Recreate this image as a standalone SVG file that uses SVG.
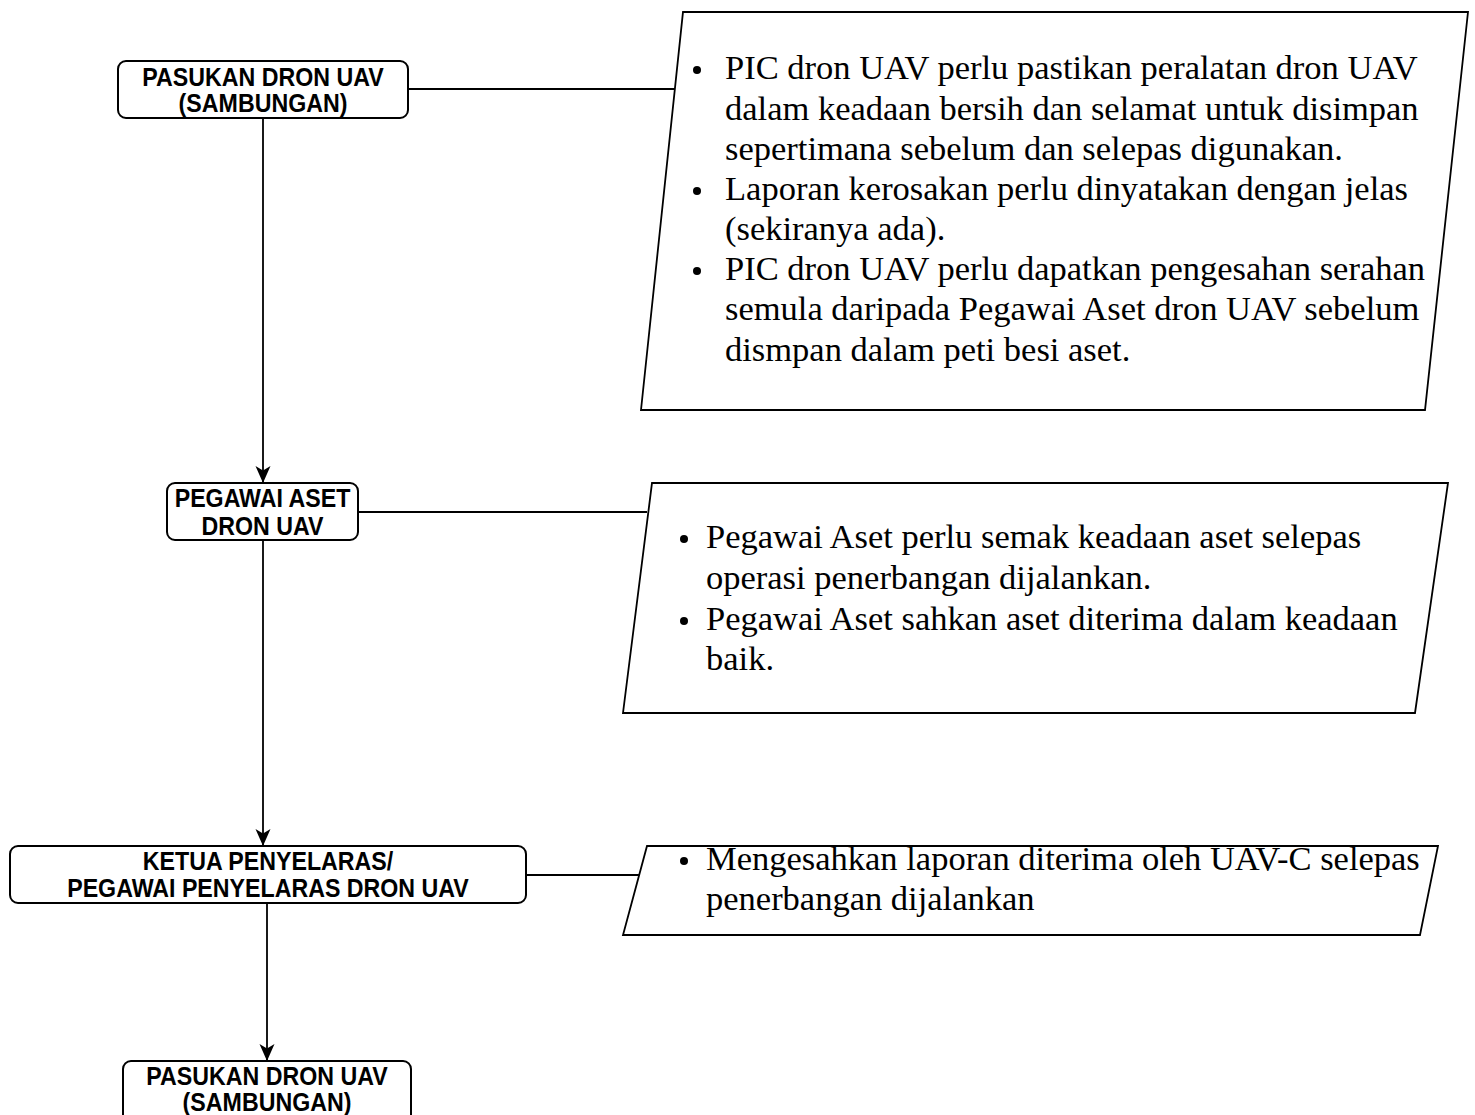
<svg xmlns="http://www.w3.org/2000/svg" width="1475" height="1115" viewBox="0 0 1475 1115">
<defs>
<marker id="arr" markerWidth="18" markerHeight="16" refX="17" refY="7.5" orient="auto" markerUnits="userSpaceOnUse">
<path d="M0,0 L17,7.5 L0,15 L4.5,7.5 Z" fill="#000"/>
</marker>
<style>
.box{fill:#fff;stroke:#000;stroke-width:2}
.para{fill:#fff;stroke:#000;stroke-width:1.8}
.lbl{font-family:"Liberation Sans",Arial,sans-serif;font-weight:bold;font-size:25px;text-anchor:middle;fill:#000}
.note{font-family:"Liberation Serif","Times New Roman",serif;font-size:34.5px;fill:#000}
.con{stroke:#000;stroke-width:1.8;fill:none}
.bul{fill:#000}
</style>
</defs>
<rect width="1475" height="1115" fill="#fff"/>
<g id="connectors">
<line class="con" x1="263" y1="118" x2="263" y2="483" marker-end="url(#arr)"/>
<line class="con" x1="263" y1="540" x2="263" y2="846" marker-end="url(#arr)"/>
<line class="con" x1="267" y1="903" x2="267" y2="1061" marker-end="url(#arr)"/>
<line class="con" x1="408" y1="89" x2="675" y2="89"/>
<line class="con" x1="358" y1="512" x2="647" y2="512"/>
<line class="con" x1="526" y1="875" x2="641" y2="875"/>
</g>
<g id="node1">
<rect class="box" x="118" y="61" width="290" height="57" rx="8"/>
<g transform="translate(263,0) scale(0.928,1)">
<text class="lbl" x="0" y="86">PASUKAN DRON UAV</text>
<text class="lbl" x="0" y="112">(SAMBUNGAN)</text>
</g>
</g>
<g id="note1">
<polygon class="para" points="683,12 1468,12 1425,410 641,410"/>
<circle class="bul" cx="697" cy="70" r="4"/>
<circle class="bul" cx="697" cy="191" r="4"/>
<circle class="bul" cx="697" cy="271" r="4"/>
<text class="note" x="725" y="79">PIC dron UAV perlu pastikan peralatan dron UAV</text>
<text class="note" x="725" y="120">dalam keadaan bersih dan selamat untuk disimpan</text>
<text class="note" x="725" y="160">sepertimana sebelum dan selepas digunakan.</text>
<text class="note" x="725" y="200">Laporan kerosakan perlu dinyatakan dengan jelas</text>
<text class="note" x="725" y="240">(sekiranya ada).</text>
<text class="note" x="725" y="280">PIC dron UAV perlu dapatkan pengesahan serahan</text>
<text class="note" x="725" y="320">semula daripada Pegawai Aset dron UAV sebelum</text>
<text class="note" x="725" y="361">dismpan dalam peti besi aset.</text>
</g>
<g id="node2">
<rect class="box" x="167" y="483" width="191" height="57" rx="8"/>
<g transform="translate(262.5,0) scale(0.928,1)">
<text class="lbl" x="0" y="507.5">PEGAWAI ASET</text>
<text class="lbl" x="0" y="535">DRON UAV</text>
</g>
</g>
<g id="note2">
<polygon class="para" points="652,483 1448,483 1415,713 623,713"/>
<circle class="bul" cx="684" cy="539" r="4"/>
<circle class="bul" cx="684" cy="621" r="4"/>
<text class="note" x="706" y="548">Pegawai Aset perlu semak keadaan aset selepas</text>
<text class="note" x="706" y="589">operasi penerbangan dijalankan.</text>
<text class="note" x="706" y="630">Pegawai Aset sahkan aset diterima dalam keadaan</text>
<text class="note" x="706" y="670">baik.</text>
</g>
<g id="node3">
<rect class="box" x="10" y="846" width="516" height="57" rx="8"/>
<g transform="translate(268,0) scale(0.928,1)">
<text class="lbl" x="0" y="870">KETUA PENYELARAS/</text>
<text class="lbl" x="0" y="897">PEGAWAI PENYELARAS DRON UAV</text>
</g>
</g>
<g id="note3">
<polygon class="para" points="647,846 1438,846 1420,935 623,935"/>
<circle class="bul" cx="684" cy="861" r="4"/>
<text class="note" x="706" y="870">Mengesahkan laporan diterima oleh UAV-C selepas</text>
<text class="note" x="706" y="910">penerbangan dijalankan</text>
</g>
<g id="node4">
<rect class="box" x="123" y="1061" width="288" height="62" rx="8"/>
<g transform="translate(267,0) scale(0.928,1)">
<text class="lbl" x="0" y="1085">PASUKAN DRON UAV</text>
<text class="lbl" x="0" y="1111">(SAMBUNGAN)</text>
</g>
</g>
</svg>
